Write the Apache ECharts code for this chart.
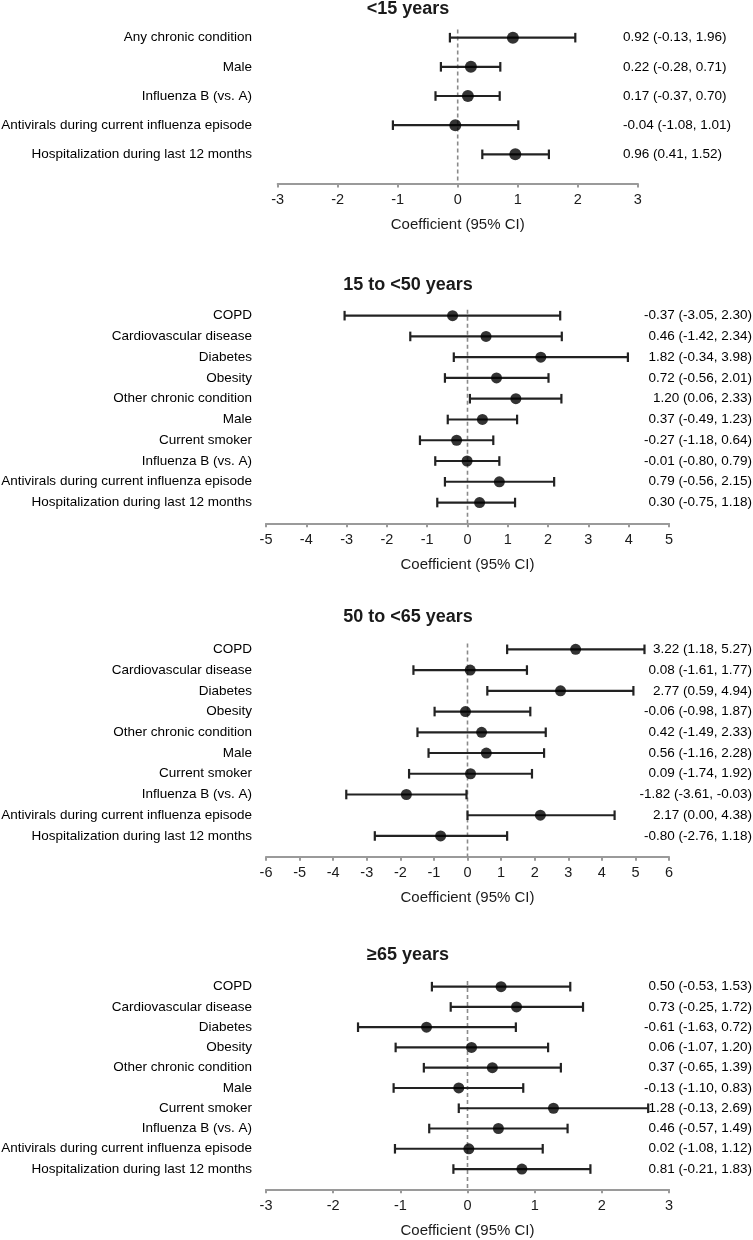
<!DOCTYPE html>
<html><head><meta charset="utf-8">
<script src="https://cdn.jsdelivr.net/npm/echarts@6/dist/echarts.min.js"></script>
<style>html,body{margin:0;padding:0;background:#fff}#c{width:753px;height:1240px}</style>
</head><body><div id="c"></div>
<script>
// ---- data ----
const titles = ['<15 years', '15 to <50 years', '50 to <65 years', '≥65 years'];
const vars1 = ['Any chronic condition', 'Male', 'Influenza B (vs. A)', 'Antivirals during current influenza episode', 'Hospitalization during last 12 months'];
const varsAdult = ['COPD', 'Cardiovascular disease', 'Diabetes', 'Obesity', 'Other chronic condition', 'Male', 'Current smoker', 'Influenza B (vs. A)', 'Antivirals during current influenza episode', 'Hospitalization during last 12 months'];

const est1 = [0.92, 0.22, 0.17, -0.04, 0.96];
const lo1 = [-0.13, -0.28, -0.37, -1.08, 0.41];
const hi1 = [1.96, 0.71, 0.70, 1.01, 1.52];

const est2 = [-0.37, 0.46, 1.82, 0.72, 1.20, 0.37, -0.27, -0.01, 0.79, 0.30];
const lo2 = [-3.05, -1.42, -0.34, -0.56, 0.06, -0.49, -1.18, -0.80, -0.56, -0.75];
const hi2 = [2.30, 2.34, 3.98, 2.01, 2.33, 1.23, 0.64, 0.79, 2.15, 1.18];

const est3 = [3.22, 0.08, 2.77, -0.06, 0.42, 0.56, 0.09, -1.82, 2.17, -0.80];
const lo3 = [1.18, -1.61, 0.59, -0.98, -1.49, -1.16, -1.74, -3.61, 0.00, -2.76];
const hi3 = [5.27, 1.77, 4.94, 1.87, 2.33, 2.28, 1.92, -0.03, 4.38, 1.18];

const est4 = [0.50, 0.73, -0.61, 0.06, 0.37, -0.13, 1.28, 0.46, 0.02, 0.81];
const lo4 = [-0.53, -0.25, -1.63, -1.07, -0.65, -1.10, -0.13, -0.57, -1.08, -0.21];
const hi4 = [1.53, 1.72, 0.72, 1.20, 1.39, 0.83, 2.69, 1.49, 1.12, 1.83];

const xMins = [-3, -5, -6, -3];
const xMaxs = [3, 5, 6, 3];
const axisTitle = 'Coefficient (95% CI)';

// ---- layout ----
const panels = [
  {names: vars1, est: est1, lo: lo1, hi: hi1},
  {names: varsAdult, est: est2, lo: lo2, hi: hi2},
  {names: varsAdult, est: est3, lo: lo3, hi: hi3},
  {names: varsAdult, est: est4, lo: lo4, hi: hi4}
];
const layout = [
  {left: 277.7, width: 360, top: 8.5, height: 175, titleTop: 0, dot: 12, rightAlign: 'left', rightMargin: -14.7},
  {left: 266, width: 403, top: 294.9, height: 228.4, titleTop: 276, dot: 11, rightAlign: 'right', rightMargin: 83},
  {left: 266, width: 403, top: 628.6, height: 228.1, titleTop: 608, dot: 11, rightAlign: 'right', rightMargin: 83},
  {left: 266, width: 403, top: 966.4, height: 222.9, titleTop: 946, dot: 11, rightAlign: 'right', rightMargin: 83}
];

const FONT = '"Liberation Sans", Arial, Helvetica, sans-serif';
const TXT = '#000';
const fmt = v => v.toFixed(2);

const option = {
  animation: false,
  backgroundColor: '#fff',
  title: [], grid: [], xAxis: [], yAxis: [], series: []
};

panels.forEach((p, k) => {
  const L = layout[k];
  const n = p.names.length;
  option.title.push({
    text: titles[k], left: 408, top: L.titleTop, textAlign: 'center', padding: 0,
    textStyle: {fontFamily: FONT, fontSize: 18, fontWeight: 'bold', color: '#1a1a1a'}
  });
  option.grid.push({left: L.left, width: L.width, top: L.top, height: L.height, outerBoundsMode: 'none', containLabel: false});
  option.xAxis.push({
    gridIndex: k, type: 'value', min: xMins[k], max: xMaxs[k], interval: 1,
    name: axisTitle, nameLocation: 'middle', nameGap: 34,
    nameTextStyle: {fontFamily: FONT, fontSize: 15, color: '#1a1a1a'},
    axisLine: {show: true, onZero: false, lineStyle: {color: '#9a9a9a', width: 2}},
    axisTick: {show: true, inside: false, length: 4, lineStyle: {color: '#9a9a9a', width: 2}},
    axisLabel: {margin: 9, fontFamily: FONT, fontSize: 14.5, color: '#1a1a1a'},
    splitLine: {show: false}
  });
  const rightLabels = p.est.map((e, i) => fmt(e) + ' (' + fmt(p.lo[i]) + ', ' + fmt(p.hi[i]) + ')');
  option.yAxis.push({
    gridIndex: k, type: 'value', inverse: true, min: 0, max: n + 1, interval: 1,
    axisLine: {show: false}, axisTick: {show: false}, splitLine: {show: false},
    axisLabel: {margin: L.left - 252, fontFamily: FONT, fontSize: 13.5, color: TXT,
      formatter: v => p.names[v - 1] || ''}
  });
  option.yAxis.push({
    gridIndex: k, type: 'value', position: 'right', inverse: true, min: 0, max: n + 1, interval: 1,
    axisLine: {show: false}, axisTick: {show: false}, splitLine: {show: false},
    axisLabel: {margin: L.rightMargin, align: L.rightAlign, fontFamily: FONT, fontSize: 13.5, color: TXT,
      formatter: v => rightLabels[v - 1] || ''}
  });
  const yIdx = k * 2;
  // zero reference line
  option.series.push({
    type: 'custom', xAxisIndex: k, yAxisIndex: yIdx, z: 1, silent: true,
    data: [[0, 0.72, n + 1]],
    encode: {x: 0, y: [1, 2]},
    renderItem: (params, api) => {
      const a = api.coord([api.value(0), api.value(1)]);
      const b = api.coord([api.value(0), api.value(2)]);
      return {type: 'line', shape: {x1: a[0], y1: a[1], x2: b[0], y2: b[1]},
        style: {stroke: '#8a8a8a', lineWidth: 1.6, lineDash: [4, 3]}};
    }
  });
  // CI bars
  option.series.push({
    type: 'custom', xAxisIndex: k, yAxisIndex: yIdx, z: 2, silent: true,
    data: p.lo.map((l, i) => [l, p.hi[i], i + 1]),
    encode: {x: [0, 1], y: 2},
    renderItem: (params, api) => {
      const a = api.coord([api.value(0), api.value(2)]);
      const b = api.coord([api.value(1), api.value(2)]);
      const h = 4.8;
      const st = {stroke: '#222', lineWidth: 2.2};
      return {type: 'group', children: [
        {type: 'line', shape: {x1: a[0], y1: a[1], x2: b[0], y2: b[1]}, style: st},
        {type: 'line', shape: {x1: a[0], y1: a[1] - h, x2: a[0], y2: a[1] + h}, style: st},
        {type: 'line', shape: {x1: b[0], y1: b[1] - h, x2: b[0], y2: b[1] + h}, style: st}
      ]};
    }
  });
  // point estimates
  option.series.push({
    type: 'scatter', xAxisIndex: k, yAxisIndex: yIdx, z: 3, silent: true,
    symbol: 'circle', symbolSize: L.dot,
    itemStyle: {color: '#000'},
    data: p.est.map((e, i) => [e, i + 1])
  });
});

const chart = echarts.init(document.getElementById('c'), null, {renderer: 'canvas'});
chart.setOption(option);
</script>
</body></html>
